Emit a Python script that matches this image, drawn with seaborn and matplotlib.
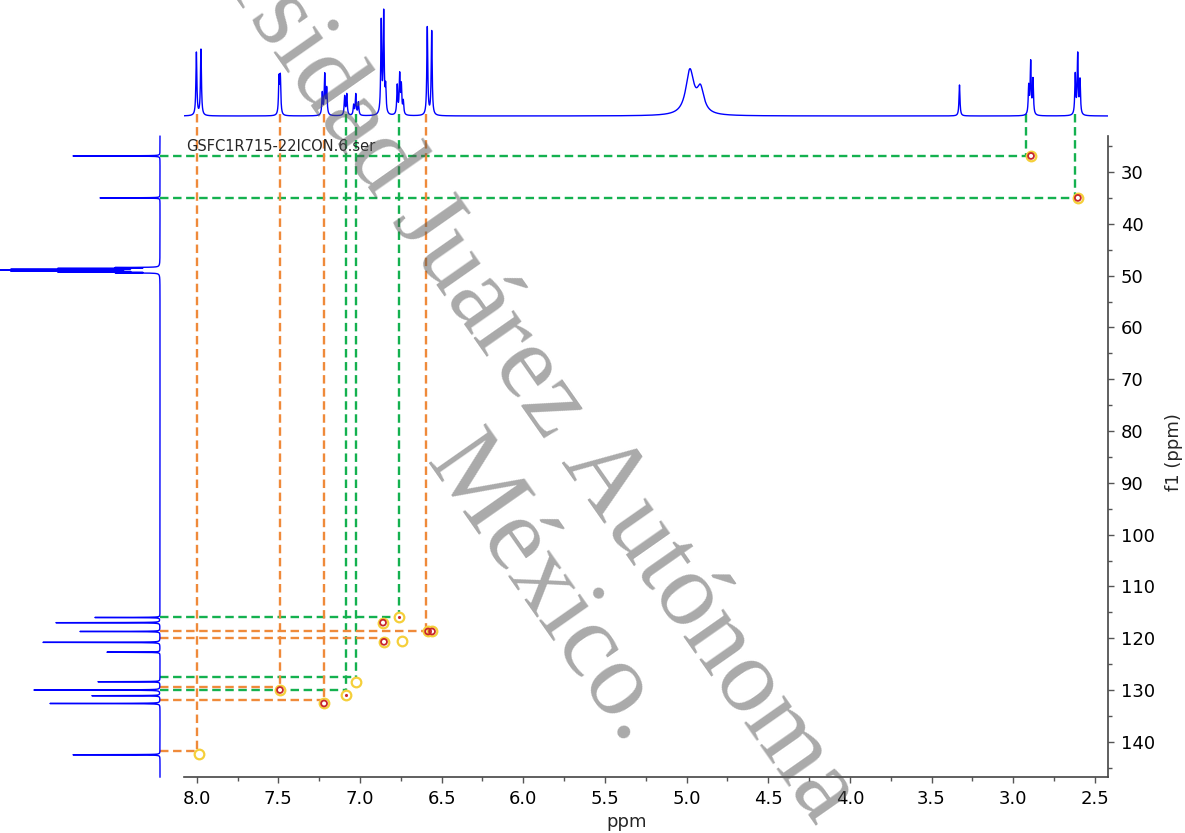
import numpy as np
import pandas as pd
import matplotlib
matplotlib.use("Agg")
import matplotlib.pyplot as plt
import seaborn as sns

# ---------------- data ----------------
# 1H trace (f2, top): peak positions (ppm), heights (px), half widths (ppm)
h1_ppm = [8.002, 7.974, 7.496, 7.488, 7.231, 7.216, 7.204, 7.094, 7.081,
          7.039, 7.026, 7.010, 6.870, 6.855, 6.843, 6.772, 6.757, 6.747, 6.735,
          6.588, 6.561, 4.980, 4.915, 3.329, 2.905, 2.893, 2.879, 2.620, 2.605, 2.591]
h1_height = [63, 66, 36, 37, 22, 40, 26, 19, 21, 10, 21, 13, 92, 100, 25,
             29, 39, 28, 13, 88, 84, 44, 24, 31, 28, 52, 35, 40, 60, 34]
h1_hwhm = [0.0035] * 21 + [0.03, 0.026] + [0.0035] * 7

# 13C trace (f1, left): peak positions (ppm), heights (px)
c13_ppm = [26.9, 35.0, 116.0, 117.0, 118.7, 120.8, 122.7, 128.4, 130.0, 131.1, 132.6, 142.5]
c13_height = [87, 60, 65, 104, 80, 117, 53, 62, 126, 68, 110, 87]
solvent_ppm = [48.44, 48.61, 48.78, 48.95, 49.12, 49.29, 49.46]
solvent_height = [40, 95, 140, 153, 140, 95, 40]

# HSQC correlation guide lines: 1H corner, 13C level, 1H end of horizontal, colour
corr_h = [2.920, 2.622, 6.761, 7.024, 7.088, 7.998, 7.490, 7.220, 6.596, None]
corr_c = [26.9, 35.0, 116.0, 127.5, 130.0, 141.8, 129.5, 131.9, 118.55, 119.9]
corr_end = [2.891, 2.604, 6.761, 7.024, 7.088, 7.998, 7.490, 7.220, 6.571, 6.877]
corr_col = ["green", "green", "green", "green", "green",
            "orange", "orange", "orange", "orange", "orange"]

# cross peaks: 1H ppm, 13C ppm, kind
xp_h = [2.891, 2.604, 6.859, 6.761, 6.583, 6.559, 6.853, 6.743, 7.025, 7.490, 7.083, 7.220, 7.986]
xp_c = [26.9, 35.0, 117.0, 116.0, 118.7, 118.7, 120.7, 120.5, 128.5, 130.0, 131.0, 132.6, 142.4]
xp_kind = ["strong", "strong", "strong", "weak", "strong", "strong", "strong",
           "faint", "faint", "strong", "weak", "strong", "faint"]

x_ticks = [8.0, 7.5, 7.0, 6.5, 6.0, 5.5, 5.0, 4.5, 4.0, 3.5, 3.0, 2.5]
y_ticks = [30, 40, 50, 60, 70, 80, 90, 100, 110, 120, 130, 140]
title_text = "GSFC1R715-22ICON.6.ser"

# ---------------- layout ----------------
W, H = 1185, 833
sns.set_style("white")
plt.rcParams["font.family"] = ["DejaVu Sans"]

fig = plt.figure(figsize=(W / 100, H / 100), dpi=100)


def fbox(x0, y0, x1, y1):
    return [x0 / W, 1 - y1 / H, (x1 - x0) / W, (y1 - y0) / H]


XL, XR = 8.0778, 2.4195
YT, YB = 23.05, 146.85

ax = fig.add_axes(fbox(184, 136, 1108, 777.3))
ax_top = fig.add_axes(fbox(184, 0, 1108, 120), sharex=ax)
ax_left = fig.add_axes(fbox(0, 136, 160, 777.3), sharey=ax)


def lorentz(x, centers, heights, widths):
    y = np.zeros_like(x)
    for c, h, w in zip(centers, heights, widths):
        y += h / (1.0 + ((x - c) / w) ** 2)
    return y


# top 1H trace
hx = np.arange(XR, XL, 0.0005)[::-1]
hy = lorentz(hx, h1_ppm, h1_height, h1_hwhm)
sns.lineplot(x=hx, y=hy, ax=ax_top, sort=False, estimator=None,
             color="#0000ff", lw=1.0)
ax_top.set_ylim(-4, 116)
ax_top.axis("off")

# left 13C trace
cy = np.arange(YT, YB, 0.0025)
cx = lorentz(cy, c13_ppm, c13_height, [0.025] * len(c13_ppm)) + \
    lorentz(cy, solvent_ppm, solvent_height, [0.03] * len(solvent_ppm))
sns.lineplot(x=cx, y=cy, ax=ax_left, sort=False, estimator=None, orient="y",
             color="#0000ff", lw=1.0)
for ln in ax_left.lines:
    ln.set_clip_on(False)
ax_left.set_xlim(160, 0)
ax_left.axis("off")

# main axes
ax.set_xlim(XL, XR)
ax.set_ylim(YB, YT)

colors = {"green": "#14b14f", "orange": "#ef8a3a"}
x_far = 8.2247   # x = 160 px (left trace baseline)
y_top = 18.8     # y = 114 px (top trace baseline)
lw = 1.7
dash = (0, (6.1 / lw, 3.3 / lw))
for h, c, e, col in zip(corr_h, corr_c, corr_end, corr_col):
    ax.plot([x_far, e], [c, c], color=colors[col], lw=lw, linestyle=dash,
            clip_on=False, zorder=2)
    if h is not None:
        ax.plot([h, h], [y_top, c], color=colors[col], lw=lw, linestyle=dash,
                clip_on=False, zorder=2)

df = pd.DataFrame({"h": xp_h, "c": xp_c, "kind": xp_kind})
sns.scatterplot(data=df, x="h", y="c", ax=ax, s=48, facecolor="white",
                edgecolor="#f5cf3a", linewidth=1.6, zorder=4, legend=False)
sns.scatterplot(data=df[df.kind == "strong"], x="h", y="c", ax=ax, s=18,
                facecolor="none", edgecolor="#c8262b", linewidth=1.3, zorder=5,
                legend=False)
sns.scatterplot(data=df[df.kind == "weak"], x="h", y="c", ax=ax, s=5,
                color="#c8262b", linewidth=0, zorder=5, legend=False)

for s in ["left", "top"]:
    ax.spines[s].set_visible(False)
for s in ["right", "bottom"]:
    ax.spines[s].set_visible(True)
    ax.spines[s].set_color("#444444")
    ax.spines[s].set_linewidth(1.2)

ax.yaxis.tick_right()
ax.set_xticks(x_ticks)
ax.set_xticklabels([f"{v:.1f}" for v in x_ticks])
ax.set_xticks(np.arange(2.5, 8.01, 0.25), minor=True)
ax.set_yticks(y_ticks)
ax.set_yticklabels([str(v) for v in y_ticks])
ax.set_yticks(np.arange(25, 146, 5), minor=True)
ax.tick_params(which="major", direction="out", length=4.6, width=1.0,
               color="#555555", labelsize=13, labelcolor="black", pad=4.5,
               bottom=True, right=True, left=False, top=False)
ax.tick_params(which="minor", direction="out", length=2.6, width=1.0,
               color="#555555", bottom=True, right=True, left=False, top=False)
ax.set_xlabel("")
ax.set_ylabel("")
ax.grid(False)
ax.set_facecolor("none")

fig.text(627 / W, 1 - 822 / H, "ppm", ha="center", va="center", fontsize=13)
fig.text(1174 / W, 1 - 452 / H, "f1 (ppm)", ha="center", va="center",
         rotation=90, fontsize=13)
fig.text(186.5 / W, 1 - 150.7 / H, title_text, ha="left", va="baseline",
         fontsize=10.5, zorder=6)

# watermark
ang = -55
wm = dict(fontsize=76, family="Liberation Serif", color="#555555", alpha=0.5,
          rotation=ang, rotation_mode="anchor", va="baseline",
          transform=fig.transFigure, zorder=10)
fig.text(425 / W, 1 - 462 / H, "México.", ha="left", **wm)
fig.text(560 / W, 1 - 462 / H, "Autónoma", ha="left", **wm)
fig.text(545 / W, 1 - 441 / H, "Universidad Juárez", ha="right", **wm)

fig.savefig("out.png", dpi=100)
